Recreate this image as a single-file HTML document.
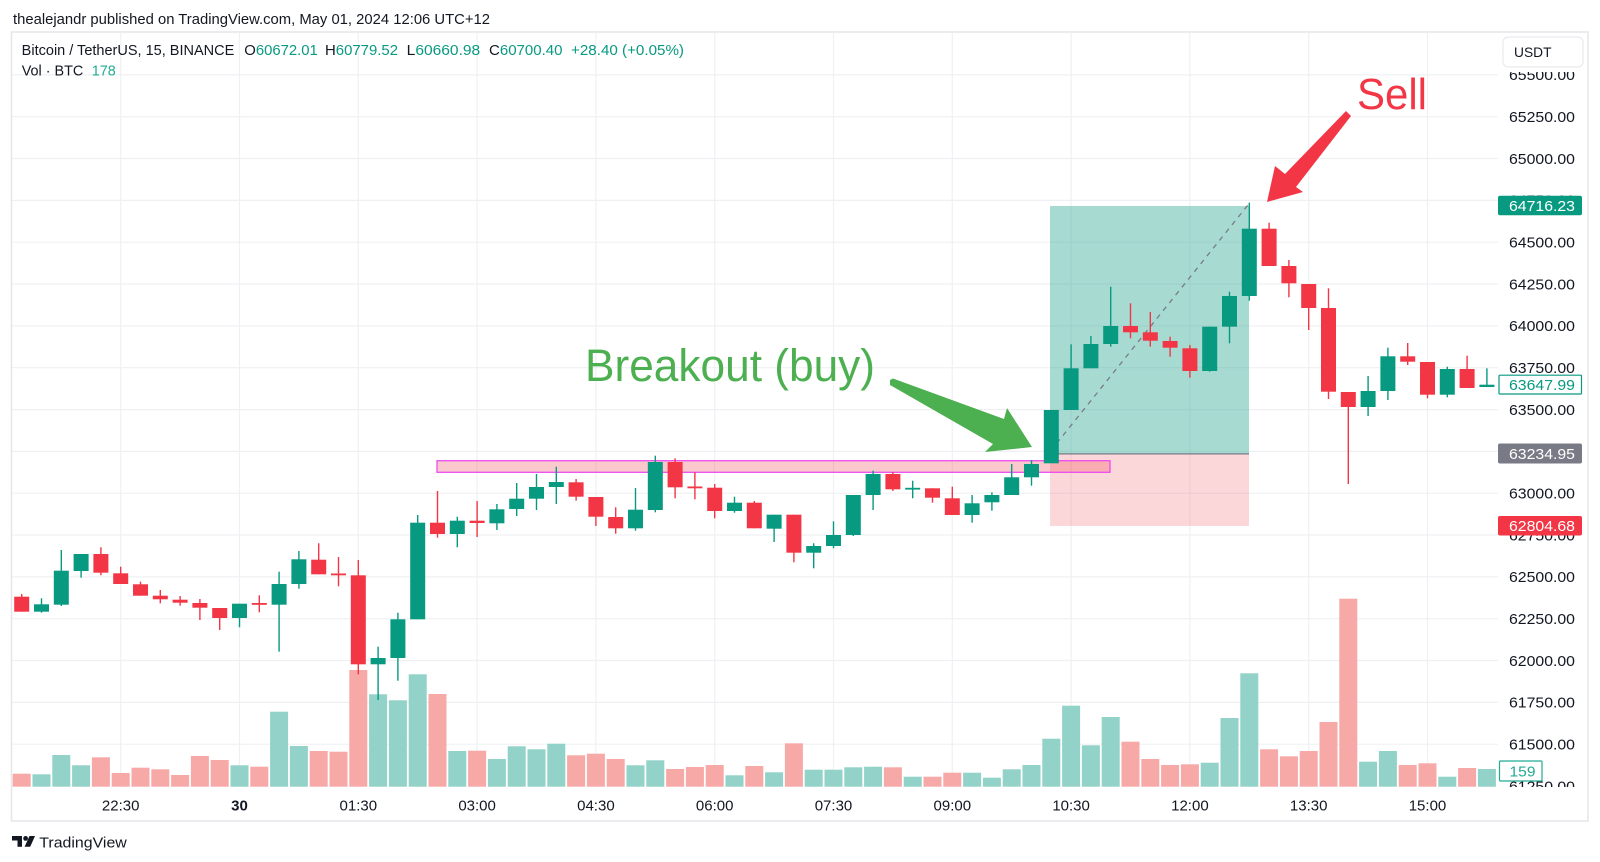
<!DOCTYPE html>
<html><head><meta charset="utf-8"><style>
html,body{margin:0;padding:0;background:#fff;width:1600px;height:862px;overflow:hidden}
svg{display:block;font-family:"Liberation Sans",Arial,sans-serif}
</style></head><body>
<svg width="1600" height="862" viewBox="0 0 1600 862" xmlns="http://www.w3.org/2000/svg">
<defs>
<clipPath id="axclip"><rect x="1498" y="72" width="90" height="715"/></clipPath>
</defs>
<rect x="0" y="0" width="1600" height="862" fill="#fff"/>
<!-- header -->
<text x="13" y="24" font-size="14.5" fill="#131722" textLength="477" lengthAdjust="spacingAndGlyphs">thealejandr published on TradingView.com, May 01, 2024 12:06 UTC+12</text>
<!-- frame -->
<rect x="11.5" y="32" width="1576.5" height="789" fill="none" stroke="#e4e6eb" stroke-width="1.5"/>
<!-- grid -->
<g stroke="#eff0f3" stroke-width="1.2">
<line x1="120.7" y1="33" x2="120.7" y2="787"/><line x1="239.5" y1="33" x2="239.5" y2="787"/><line x1="358.3" y1="33" x2="358.3" y2="787"/><line x1="477.1" y1="33" x2="477.1" y2="787"/><line x1="595.9" y1="33" x2="595.9" y2="787"/><line x1="714.7" y1="33" x2="714.7" y2="787"/><line x1="833.5" y1="33" x2="833.5" y2="787"/><line x1="952.3" y1="33" x2="952.3" y2="787"/><line x1="1071.1" y1="33" x2="1071.1" y2="787"/><line x1="1189.9" y1="33" x2="1189.9" y2="787"/><line x1="1308.7" y1="33" x2="1308.7" y2="787"/><line x1="1427.5" y1="33" x2="1427.5" y2="787"/>
<line x1="12" y1="74.9" x2="1498" y2="74.9"/><line x1="12" y1="116.7" x2="1498" y2="116.7"/><line x1="12" y1="158.5" x2="1498" y2="158.5"/><line x1="12" y1="200.4" x2="1498" y2="200.4"/><line x1="12" y1="242.2" x2="1498" y2="242.2"/><line x1="12" y1="284" x2="1498" y2="284"/><line x1="12" y1="325.9" x2="1498" y2="325.9"/><line x1="12" y1="367.7" x2="1498" y2="367.7"/><line x1="12" y1="409.6" x2="1498" y2="409.6"/><line x1="12" y1="451.4" x2="1498" y2="451.4"/><line x1="12" y1="493.2" x2="1498" y2="493.2"/><line x1="12" y1="535" x2="1498" y2="535"/><line x1="12" y1="576.9" x2="1498" y2="576.9"/><line x1="12" y1="618.7" x2="1498" y2="618.7"/><line x1="12" y1="660.5" x2="1498" y2="660.5"/><line x1="12" y1="702.4" x2="1498" y2="702.4"/><line x1="12" y1="744.2" x2="1498" y2="744.2"/>
</g>
<!-- position box -->
<rect x="1050" y="206" width="199" height="247.9" fill="rgba(8,153,129,0.355)"/>
<rect x="1050" y="453.9" width="199" height="72.1" fill="rgba(242,54,69,0.2)"/>
<line x1="1050" y1="453.9" x2="1249" y2="453.9" stroke="#787b86" stroke-width="1.2"/>
<!-- pink zone -->
<rect x="437" y="460.7" width="673" height="11.6" fill="rgba(242,54,69,0.27)" stroke="#ee4cef" stroke-width="1.3"/>
<!-- volume red -->
<g fill="#f7a9a8">
<rect x="12.7" y="773.7" width="18" height="13"/>
<rect x="91.9" y="757.3" width="18" height="29.4"/>
<rect x="111.7" y="773" width="18" height="13.7"/>
<rect x="131.5" y="767.7" width="18" height="19"/>
<rect x="151.3" y="769.3" width="18" height="17.4"/>
<rect x="171.1" y="775" width="18" height="11.7"/>
<rect x="190.9" y="756" width="18" height="30.7"/>
<rect x="210.7" y="760" width="18" height="26.7"/>
<rect x="250.3" y="766.7" width="18" height="20"/>
<rect x="309.7" y="751" width="18" height="35.7"/>
<rect x="329.5" y="751.7" width="18" height="35"/>
<rect x="349.3" y="670" width="18" height="116.7"/>
<rect x="428.5" y="694" width="18" height="92.7"/>
<rect x="468.1" y="750.7" width="18" height="36"/>
<rect x="567.1" y="755.3" width="18" height="31.4"/>
<rect x="586.9" y="753.7" width="18" height="33"/>
<rect x="606.7" y="759" width="18" height="27.7"/>
<rect x="666.1" y="769" width="18" height="17.7"/>
<rect x="685.9" y="767" width="18" height="19.7"/>
<rect x="705.7" y="765" width="18" height="21.7"/>
<rect x="745.3" y="766" width="18" height="20.7"/>
<rect x="784.9" y="743.3" width="18" height="43.4"/>
<rect x="883.9" y="767.3" width="18" height="19.4"/>
<rect x="923.5" y="776.7" width="18" height="10"/>
<rect x="943.3" y="772.7" width="18" height="14"/>
<rect x="1121.5" y="741.7" width="18" height="45"/>
<rect x="1141.3" y="759" width="18" height="27.7"/>
<rect x="1161.1" y="765" width="18" height="21.7"/>
<rect x="1180.9" y="764.3" width="18" height="22.4"/>
<rect x="1260.1" y="749.3" width="18" height="37.4"/>
<rect x="1279.9" y="756.3" width="18" height="30.4"/>
<rect x="1299.7" y="751" width="18" height="35.7"/>
<rect x="1319.5" y="722" width="18" height="64.7"/>
<rect x="1339.3" y="598.7" width="18" height="188"/>
<rect x="1398.7" y="765" width="18" height="21.7"/>
<rect x="1418.5" y="763.3" width="18" height="23.4"/>
<rect x="1458.1" y="768" width="18" height="18.7"/>
</g>
<!-- volume green -->
<g fill="#92d2c8">
<rect x="32.5" y="774.3" width="18" height="12.4"/>
<rect x="52.3" y="755" width="18" height="31.7"/>
<rect x="72.1" y="765.3" width="18" height="21.4"/>
<rect x="230.5" y="765.3" width="18" height="21.4"/>
<rect x="270.1" y="711.7" width="18" height="75"/>
<rect x="289.9" y="746" width="18" height="40.7"/>
<rect x="369.1" y="694.3" width="18" height="92.4"/>
<rect x="388.9" y="700.3" width="18" height="86.4"/>
<rect x="408.7" y="674.3" width="18" height="112.4"/>
<rect x="448.3" y="751" width="18" height="35.7"/>
<rect x="487.9" y="759" width="18" height="27.7"/>
<rect x="507.7" y="746.3" width="18" height="40.4"/>
<rect x="527.5" y="749.3" width="18" height="37.4"/>
<rect x="547.3" y="743.7" width="18" height="43"/>
<rect x="626.5" y="765.3" width="18" height="21.4"/>
<rect x="646.3" y="760.3" width="18" height="26.4"/>
<rect x="725.5" y="775.3" width="18" height="11.4"/>
<rect x="765.1" y="772.3" width="18" height="14.4"/>
<rect x="804.7" y="769.7" width="18" height="17"/>
<rect x="824.5" y="769.7" width="18" height="17"/>
<rect x="844.3" y="767.3" width="18" height="19.4"/>
<rect x="864.1" y="766.7" width="18" height="20"/>
<rect x="903.7" y="776.7" width="18" height="10"/>
<rect x="963.1" y="772.7" width="18" height="14"/>
<rect x="982.9" y="777.7" width="18" height="9"/>
<rect x="1002.7" y="769.3" width="18" height="17.4"/>
<rect x="1022.5" y="765" width="18" height="21.7"/>
<rect x="1042.3" y="738.7" width="18" height="48"/>
<rect x="1062.1" y="705.7" width="18" height="81"/>
<rect x="1081.9" y="745.3" width="18" height="41.4"/>
<rect x="1101.7" y="717" width="18" height="69.7"/>
<rect x="1200.7" y="762.7" width="18" height="24"/>
<rect x="1220.5" y="718" width="18" height="68.7"/>
<rect x="1240.3" y="673.3" width="18" height="113.4"/>
<rect x="1359.1" y="761.7" width="18" height="25"/>
<rect x="1378.9" y="751" width="18" height="35.7"/>
<rect x="1438.3" y="776.7" width="18" height="10"/>
<rect x="1477.9" y="769" width="18" height="17.7"/>
</g>
<!-- dashed line -->
<line x1="1056.7" y1="443.3" x2="1249.3" y2="203.3" stroke="#787b86" stroke-width="1.3" stroke-dasharray="5,5"/>
<!-- green candles -->
<g fill="#089981">
<rect x="34" y="604.3" width="15" height="7.4"/><rect x="40.8" y="598.3" width="1.4" height="14.4"/>
<rect x="53.8" y="570.7" width="15" height="34"/><rect x="60.6" y="550" width="1.4" height="56"/>
<rect x="73.6" y="554" width="15" height="17"/><rect x="80.4" y="554" width="1.4" height="23.7"/>
<rect x="232" y="603.7" width="15" height="14.3"/><rect x="238.8" y="603.7" width="1.4" height="23.6"/>
<rect x="271.6" y="584" width="15" height="20.7"/><rect x="278.4" y="571.7" width="1.4" height="80"/>
<rect x="291.4" y="559.3" width="15" height="24.7"/><rect x="298.2" y="551" width="1.4" height="37.7"/>
<rect x="370.6" y="658" width="15" height="6.3"/><rect x="377.4" y="646.7" width="1.4" height="53.3"/>
<rect x="390.4" y="619.3" width="15" height="38.7"/><rect x="397.2" y="612.7" width="1.4" height="68"/>
<rect x="410.2" y="522.7" width="15" height="96.6"/><rect x="417" y="515" width="1.4" height="104.3"/>
<rect x="449.8" y="520.7" width="15" height="13.3"/><rect x="456.6" y="516.7" width="1.4" height="30.6"/>
<rect x="489.4" y="509.3" width="15" height="14"/><rect x="496.2" y="504" width="1.4" height="26"/>
<rect x="509.2" y="498.7" width="15" height="10.3"/><rect x="516" y="483" width="1.4" height="33"/>
<rect x="529" y="487" width="15" height="11.7"/><rect x="535.8" y="474" width="1.4" height="36"/>
<rect x="548.8" y="482" width="15" height="5"/><rect x="555.6" y="466.7" width="1.4" height="37.3"/>
<rect x="628" y="509.7" width="15" height="18.6"/><rect x="634.8" y="488" width="1.4" height="42.7"/>
<rect x="647.8" y="462" width="15" height="48"/><rect x="654.6" y="455.7" width="1.4" height="56.6"/>
<rect x="727" y="502.7" width="15" height="8.3"/><rect x="733.8" y="496.7" width="1.4" height="16"/>
<rect x="766.6" y="514.7" width="15" height="14"/><rect x="773.4" y="514.7" width="1.4" height="27.3"/>
<rect x="806.2" y="546" width="15" height="6.7"/><rect x="813" y="543.3" width="1.4" height="25"/>
<rect x="826" y="535" width="15" height="11"/><rect x="832.8" y="521.3" width="1.4" height="27"/>
<rect x="845.8" y="495" width="15" height="40"/><rect x="852.6" y="495" width="1.4" height="41"/>
<rect x="865.6" y="474" width="15" height="21"/><rect x="872.4" y="470.7" width="1.4" height="39.3"/>
<rect x="905.2" y="487.8" width="15" height="1.8"/><rect x="912" y="480.7" width="1.4" height="17.6"/>
<rect x="964.6" y="503.3" width="15" height="11.7"/><rect x="971.4" y="495" width="1.4" height="27.7"/>
<rect x="984.4" y="495" width="15" height="7.3"/><rect x="991.2" y="492.3" width="1.4" height="18.4"/>
<rect x="1004.2" y="477.3" width="15" height="17.7"/><rect x="1011" y="464" width="1.4" height="31"/>
<rect x="1024" y="464" width="15" height="13.3"/><rect x="1030.8" y="460" width="1.4" height="25.7"/>
<rect x="1043.8" y="410" width="15" height="53.3"/>
<rect x="1063.6" y="368.3" width="15" height="41.7"/><rect x="1070.4" y="344.3" width="1.4" height="65.7"/>
<rect x="1083.4" y="344" width="15" height="24.3"/><rect x="1090.2" y="336" width="1.4" height="32.3"/>
<rect x="1103.2" y="326" width="15" height="18"/><rect x="1110" y="286.7" width="1.4" height="60"/>
<rect x="1202.2" y="326.7" width="15" height="44.3"/><rect x="1209" y="326.7" width="1.4" height="45"/>
<rect x="1222" y="296" width="15" height="30.7"/><rect x="1228.8" y="291.7" width="1.4" height="51.6"/>
<rect x="1241.8" y="228.7" width="15" height="67.3"/><rect x="1248.6" y="202.7" width="1.4" height="98"/>
<rect x="1360.6" y="391" width="15" height="16"/><rect x="1367.4" y="376" width="1.4" height="40"/>
<rect x="1380.4" y="356.3" width="15" height="34.7"/><rect x="1387.2" y="347.7" width="1.4" height="52.3"/>
<rect x="1439.8" y="369" width="15" height="25.7"/><rect x="1446.6" y="366.7" width="1.4" height="30.6"/>
<rect x="1479.4" y="384.7" width="15" height="2.3"/><rect x="1486.2" y="368.3" width="1.4" height="18.7"/>
</g>
<!-- red candles -->
<g fill="#f23645">
<rect x="14.2" y="596.7" width="15" height="15"/><rect x="21" y="594" width="1.4" height="17.7"/>
<rect x="93.4" y="554" width="15" height="18.7"/><rect x="100.2" y="547.3" width="1.4" height="28"/>
<rect x="113.2" y="573.3" width="15" height="10.7"/><rect x="120" y="566.7" width="1.4" height="17.3"/>
<rect x="133" y="584.3" width="15" height="11.4"/><rect x="139.8" y="581.7" width="1.4" height="14"/>
<rect x="152.8" y="595.7" width="15" height="3.6"/><rect x="159.6" y="590" width="1.4" height="13.3"/>
<rect x="172.6" y="599.7" width="15" height="3"/><rect x="179.4" y="596" width="1.4" height="9.7"/>
<rect x="192.4" y="603" width="15" height="4.7"/><rect x="199.2" y="599" width="1.4" height="21"/>
<rect x="212.2" y="608" width="15" height="10"/><rect x="219" y="608" width="1.4" height="22"/>
<rect x="251.8" y="603" width="15" height="1.8"/><rect x="258.6" y="595.3" width="1.4" height="17"/>
<rect x="311.2" y="559.7" width="15" height="14.6"/><rect x="318" y="543.3" width="1.4" height="31"/>
<rect x="331" y="573.5" width="15" height="1.8"/><rect x="337.8" y="557" width="1.4" height="29.3"/>
<rect x="350.8" y="575.3" width="15" height="89"/><rect x="357.6" y="560" width="1.4" height="114.3"/>
<rect x="430" y="522.7" width="15" height="11.3"/><rect x="436.8" y="491" width="1.4" height="46.7"/>
<rect x="469.6" y="520.7" width="15" height="2.3"/><rect x="476.4" y="501" width="1.4" height="36"/>
<rect x="568.6" y="482.3" width="15" height="14.4"/><rect x="575.4" y="479" width="1.4" height="21.7"/>
<rect x="588.4" y="497" width="15" height="19.7"/><rect x="595.2" y="497" width="1.4" height="29"/>
<rect x="608.2" y="517" width="15" height="11.3"/><rect x="615" y="507.3" width="1.4" height="26.4"/>
<rect x="667.6" y="462" width="15" height="25.3"/><rect x="674.4" y="458.3" width="1.4" height="40"/>
<rect x="687.4" y="486.5" width="15" height="1.8"/><rect x="694.2" y="472.3" width="1.4" height="27"/>
<rect x="707.2" y="487.7" width="15" height="23.3"/><rect x="714" y="484" width="1.4" height="34.3"/>
<rect x="746.8" y="502.7" width="15" height="25.6"/><rect x="753.6" y="501" width="1.4" height="27.3"/>
<rect x="786.4" y="514.7" width="15" height="38"/><rect x="793.2" y="514.7" width="1.4" height="47.6"/>
<rect x="885.4" y="474" width="15" height="15.3"/><rect x="892.2" y="472" width="1.4" height="19"/>
<rect x="925" y="488.3" width="15" height="9.4"/><rect x="931.8" y="488.3" width="1.4" height="14.4"/>
<rect x="944.8" y="498.3" width="15" height="16.7"/><rect x="951.6" y="486.7" width="1.4" height="28.3"/>
<rect x="1123" y="326" width="15" height="6.3"/><rect x="1129.8" y="303.3" width="1.4" height="35"/>
<rect x="1142.8" y="332.3" width="15" height="8.4"/><rect x="1149.6" y="312" width="1.4" height="34.7"/>
<rect x="1162.6" y="341" width="15" height="6.7"/><rect x="1169.4" y="336.7" width="1.4" height="20"/>
<rect x="1182.4" y="348.3" width="15" height="22.7"/><rect x="1189.2" y="345" width="1.4" height="32.7"/>
<rect x="1261.6" y="228.7" width="15" height="37.3"/><rect x="1268.4" y="222.7" width="1.4" height="43.3"/>
<rect x="1281.4" y="266" width="15" height="17.3"/><rect x="1288.2" y="260" width="1.4" height="37.3"/>
<rect x="1301.2" y="284" width="15" height="24"/><rect x="1308" y="284" width="1.4" height="46"/>
<rect x="1321" y="308" width="15" height="83.7"/><rect x="1327.8" y="288.3" width="1.4" height="110.7"/>
<rect x="1340.8" y="392" width="15" height="15"/><rect x="1347.6" y="392" width="1.4" height="92"/>
<rect x="1400.2" y="356.3" width="15" height="5.4"/><rect x="1407" y="343" width="1.4" height="22"/>
<rect x="1420" y="362" width="15" height="32.7"/><rect x="1426.8" y="362" width="1.4" height="36.3"/>
<rect x="1459.6" y="369" width="15" height="19"/><rect x="1466.4" y="355.7" width="1.4" height="32.3"/>
</g>
<!-- annotations -->
<polygon points="890,380 893,378.5 1004,419 1007,408 1032,447 985,452 993,444 890,385" fill="#4caf50"/>
<polygon points="1346,111 1285,174 1275,166 1267,202 1303,192 1296,187 1351,116" fill="#f23645"/>
<text x="585" y="381" font-size="45" fill="#4caf50" textLength="290" lengthAdjust="spacingAndGlyphs">Breakout (buy)</text>
<text x="1357" y="109" font-size="44" fill="#f23645" textLength="70" lengthAdjust="spacingAndGlyphs">Sell</text>
<!-- legend -->
<g font-size="14.4" fill="#131722">
<text x="21.7" y="55" textLength="212.6" lengthAdjust="spacingAndGlyphs">Bitcoin / TetherUS, 15, BINANCE</text>
<text x="244.3" y="55" textLength="73.5" lengthAdjust="spacingAndGlyphs">O<tspan fill="#089981">60672.01</tspan></text>
<text x="325" y="55" textLength="73" lengthAdjust="spacingAndGlyphs">H<tspan fill="#089981">60779.52</tspan></text>
<text x="406.7" y="55" textLength="73.5" lengthAdjust="spacingAndGlyphs">L<tspan fill="#089981">60660.98</tspan></text>
<text x="489" y="55" textLength="73.5" lengthAdjust="spacingAndGlyphs">C<tspan fill="#089981">60700.40</tspan></text>
<text x="571" y="55" fill="#089981" textLength="113" lengthAdjust="spacingAndGlyphs">+28.40 (+0.05%)</text>
<text x="21.7" y="75.7">Vol · BTC</text>
<text x="91.7" y="75.7" fill="#22ab94">178</text>
</g>
<!-- price axis labels -->
<g clip-path="url(#axclip)" font-size="15" fill="#131722">
<text x="1509" y="80.2" textLength="66" lengthAdjust="spacingAndGlyphs">65500.00</text>
<text x="1509" y="122" textLength="66" lengthAdjust="spacingAndGlyphs">65250.00</text>
<text x="1509" y="163.8" textLength="66" lengthAdjust="spacingAndGlyphs">65000.00</text>
<text x="1509" y="205.7" textLength="66" lengthAdjust="spacingAndGlyphs">64750.00</text>
<text x="1509" y="247.5" textLength="66" lengthAdjust="spacingAndGlyphs">64500.00</text>
<text x="1509" y="289.3" textLength="66" lengthAdjust="spacingAndGlyphs">64250.00</text>
<text x="1509" y="331.2" textLength="66" lengthAdjust="spacingAndGlyphs">64000.00</text>
<text x="1509" y="373" textLength="66" lengthAdjust="spacingAndGlyphs">63750.00</text>
<text x="1509" y="414.9" textLength="66" lengthAdjust="spacingAndGlyphs">63500.00</text>
<text x="1509" y="456.7" textLength="66" lengthAdjust="spacingAndGlyphs">63250.00</text>
<text x="1509" y="498.5" textLength="66" lengthAdjust="spacingAndGlyphs">63000.00</text>
<text x="1509" y="540.3" textLength="66" lengthAdjust="spacingAndGlyphs">62750.00</text>
<text x="1509" y="582.2" textLength="66" lengthAdjust="spacingAndGlyphs">62500.00</text>
<text x="1509" y="624" textLength="66" lengthAdjust="spacingAndGlyphs">62250.00</text>
<text x="1509" y="665.8" textLength="66" lengthAdjust="spacingAndGlyphs">62000.00</text>
<text x="1509" y="707.7" textLength="66" lengthAdjust="spacingAndGlyphs">61750.00</text>
<text x="1509" y="749.5" textLength="66" lengthAdjust="spacingAndGlyphs">61500.00</text>
<text x="1509" y="791.3" textLength="66" lengthAdjust="spacingAndGlyphs">61250.00</text>
</g>
<!-- USDT box -->
<rect x="1503" y="37" width="80" height="30" rx="5" fill="#fff" stroke="#e4e6eb" stroke-width="1"/>
<text x="1514" y="57" font-size="14" fill="#131722" textLength="37.5" lengthAdjust="spacingAndGlyphs">USDT</text>
<!-- price tags -->
<rect x="1498" y="195.8" width="84" height="19.5" rx="2" fill="#089981"/>
<text x="1509" y="211" font-size="15" fill="#fff" textLength="66" lengthAdjust="spacingAndGlyphs">64716.23</text>
<rect x="1499" y="375.2" width="82.5" height="18.8" rx="1" fill="#fff" stroke="#089981" stroke-width="1.2"/>
<text x="1509" y="390" font-size="15" fill="#089981" textLength="66" lengthAdjust="spacingAndGlyphs">63647.99</text>
<rect x="1498" y="443.5" width="84" height="20" rx="2" fill="#787b86"/>
<text x="1509" y="459" font-size="15" fill="#fff" textLength="66" lengthAdjust="spacingAndGlyphs">63234.95</text>
<rect x="1498" y="516" width="84" height="19.5" rx="2" fill="#f23645"/>
<text x="1509" y="531.2" font-size="15" fill="#fff" textLength="66" lengthAdjust="spacingAndGlyphs">62804.68</text>
<rect x="1499.5" y="761" width="42.5" height="20" rx="1" fill="#fff" stroke="#22ab94" stroke-width="1.2"/>
<text x="1509.5" y="776.3" font-size="15" fill="#22ab94" textLength="26" lengthAdjust="spacingAndGlyphs">159</text>
<!-- time axis -->
<g font-size="15" fill="#131722" text-anchor="middle">
<text x="120.7" y="810.5">22:30</text>
<text x="239.5" y="810.5" font-weight="bold">30</text>
<text x="358.3" y="810.5">01:30</text>
<text x="477.1" y="810.5">03:00</text>
<text x="595.9" y="810.5">04:30</text>
<text x="714.7" y="810.5">06:00</text>
<text x="833.5" y="810.5">07:30</text>
<text x="952.3" y="810.5">09:00</text>
<text x="1071.1" y="810.5">10:30</text>
<text x="1189.9" y="810.5">12:00</text>
<text x="1308.7" y="810.5">13:30</text>
<text x="1427.5" y="810.5">15:00</text>
</g>
<!-- TradingView logo -->
<g fill="#131722">
<rect x="12" y="836" width="10" height="4.5"/>
<rect x="17.5" y="836" width="4.5" height="10.8"/>
<circle cx="25.6" cy="838.4" r="2.4"/>
<polygon points="29.5,836 35,836 30.2,846.8 24.6,846.8"/>
</g>
<text x="39.3" y="847.3" font-size="15" fill="#131722" textLength="87.5" lengthAdjust="spacingAndGlyphs">TradingView</text>
</svg>
</body></html>
